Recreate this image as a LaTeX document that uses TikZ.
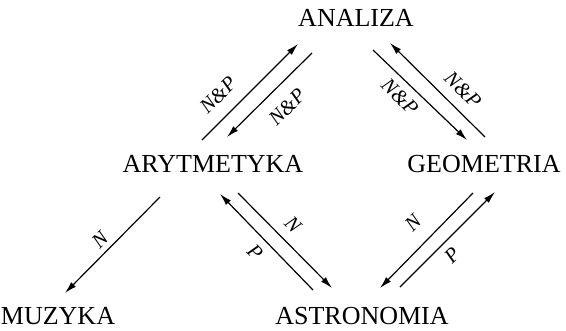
\documentclass[tikz,border=0pt]{standalone}
\usepackage{fontspec}
\setmainfont{Liberation Serif}
\usetikzlibrary{arrows.meta}

\begin{document}
\begin{tikzpicture}[x=0.75pt,y=-0.75pt,
      subject/.style={anchor=base,inner sep=0pt,font=\fontsize{19.5}{22}\selectfont},
      lab/.style={inner sep=0pt,font=\fontsize{15.5}{17}\selectfont\itshape},
      arr/.style={-{Latex[length=9pt,width=5pt]},line width=0.9pt}
    ]
      \useasboundingbox (0,0) rectangle (566,330);
      % subjects
      \node[subject] (an) at (356,26) {ANALIZA};
      \node[subject] (ar) at (213,172) {ARYTMETYKA};
      \node[subject] (ge) at (484,172) {GEOMETRIA};
      \node[subject] (mu) at (58,324) {MUZYKA};
      \node[subject] (as) at (362,324) {ASTRONOMIA};
      % arrow ends
      \coordinate (ar-an1) at (202,140);
      \coordinate (ar-an2) at (298,44);
      \coordinate (an-ar1) at (312,53);
      \coordinate (an-ar2) at (227,137);
      \coordinate (ge-an1) at (485,137);
      \coordinate (ge-an2) at (390,43);
      \coordinate (an-ge1) at (373,50);
      \coordinate (an-ge2) at (467,140);
      \coordinate (as-ar1) at (313,290);
      \coordinate (as-ar2) at (220,194);
      \coordinate (ar-as1) at (238,193);
      \coordinate (ar-as2) at (332,288);
      \coordinate (ge-as1) at (473,193);
      \coordinate (ge-as2) at (380,288);
      \coordinate (as-ge1) at (400,287);
      \coordinate (as-ge2) at (495,192);
      \coordinate (ar-mu1) at (160,197);
      \coordinate (ar-mu2) at (65,293);
      \draw[arr] (ar-an1) -- (ar-an2);
      \draw[arr] (an-ar1) -- (an-ar2);
      \draw[arr] (ge-an1) -- (ge-an2);
      \draw[arr] (an-ge1) -- (an-ge2);
      \draw[arr] (as-ar1) -- (as-ar2);
      \draw[arr] (ar-as1) -- (ar-as2);
      \draw[arr] (ge-as1) -- (ge-as2);
      \draw[arr] (as-ge1) -- (as-ge2);
      \draw[arr] (ar-mu1) -- (ar-mu2);
      % labels
      \node[lab,rotate=45] (l1) at (218,95) {N\&P};
      \node[lab,rotate=45] (l2) at (287,107) {N\&P};
      \node[lab,rotate=-45] (l3) at (463,90) {N\&P};
      \node[lab,rotate=-45] (l4) at (400,97) {N\&P};
      \node[lab,rotate=-45] (l5) at (255,252) {P};
      \node[lab,rotate=-45] (l6) at (293,225) {N};
      \node[lab,rotate=45] (l7) at (413,223) {N};
      \node[lab,rotate=45] (l8) at (452,255) {P};
      \node[lab,rotate=45] (l9) at (100,240) {N};
    \end{tikzpicture}
\end{document}
